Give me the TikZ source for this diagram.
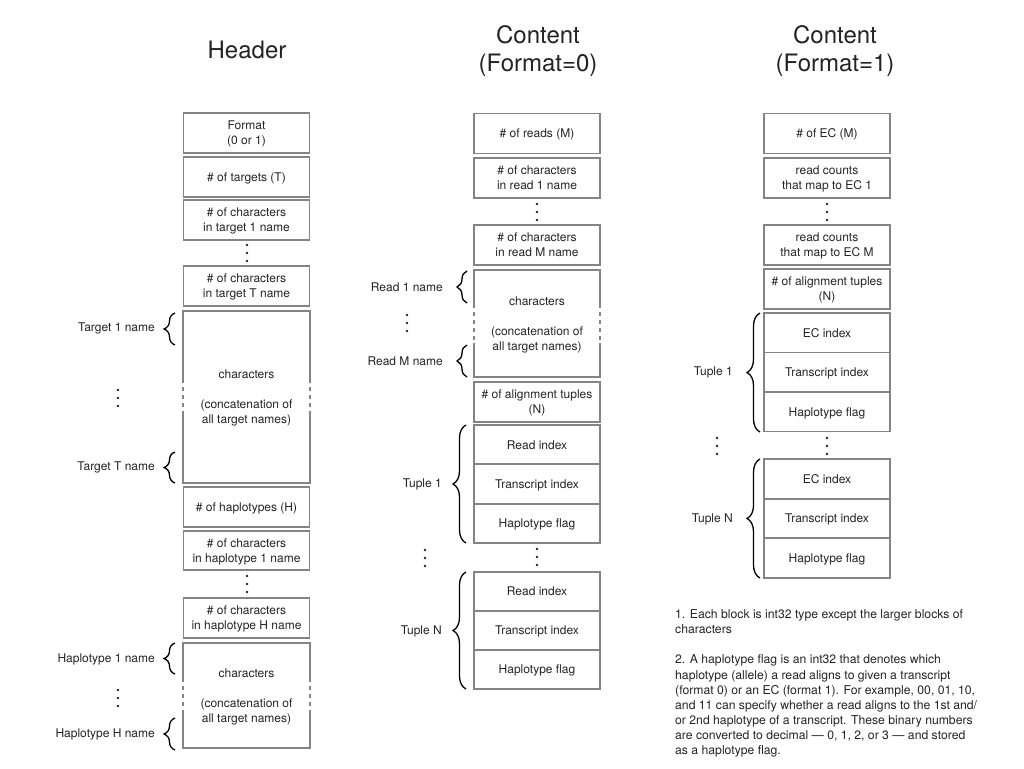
\documentclass[tikz,border=0pt]{standalone}
\usepackage{fontspec}
\setmainfont{TeX Gyre Heros}
\usetikzlibrary{decorations.pathreplacing,calc}
\definecolor{boxgray}{RGB}{132,132,132}
\definecolor{txt}{RGB}{35,35,35}
\newcommand\vdts[2]{\fill[txt] (#1,#2-8) circle[radius=1.4pt] (#1,#2) circle[radius=1.4pt] (#1,#2+8) circle[radius=1.4pt];}
\begin{document}
\begin{tikzpicture}[x=1pt,y=-1pt,
  every node/.style={text=txt},
  blk/.style={draw=boxgray, line width=1.8pt, minimum width=126pt, minimum height=40pt, inner sep=0pt, text depth=-3pt, align=center, font=\fontsize{12}{15}\selectfont},
  big/.style={minimum width=126pt, inner sep=0pt, text depth=-3pt, align=center, font=\fontsize{12}{15}\selectfont},
  bline/.style={draw=boxgray, line width=1.8pt},
  dline/.style={draw=boxgray, line width=1.8pt, dash pattern=on 4pt off 4pt},
  lbl/.style={anchor=east, inner sep=0pt, font=\fontsize{12}{15}\selectfont},
  ttl/.style={align=center, font=\fontsize{24}{28}\selectfont},
  brc/.style={decorate, line width=1.3pt, draw=black},
]
\useasboundingbox (0,0) rectangle (1024,768);

% ---------- titles ----------
\node[ttl] (t0) at (247,50) {Header};
\node[ttl] (t1) at (538,51) {Content\\(Format=0)};
\node[ttl] (t2) at (835,51) {Content\\(Format=1)};

% ---------- Header column ----------
\node[blk] (hf) at (246.5,133) {Format\\(0 or 1)};
\node[blk] (ht) at (246.5,177) {\# of targets (T)};
\node[blk] (hc1) at (246.5,220) {\# of characters\\in target 1 name};
\vdts{247}{253}
\node[blk] (hcT) at (246.5,286) {\# of characters\\in target T name};
\node[big, minimum height=172pt] (hch) at (246.5,397) {characters\\[15pt](concatenation of\\all target names)};
\draw[bline] ($(hch.west)+(0,-18)$) -- (hch.north west) -- (hch.north east) -- ($(hch.east)+(0,-18)$);
\draw[bline] ($(hch.west)+(0,16)$) -- (hch.south west) -- (hch.south east) -- ($(hch.east)+(0,16)$);
\draw[dline] ($(hch.west)+(0,-18)$) -- ($(hch.west)+(0,16)$);
\draw[dline] ($(hch.east)+(0,-18)$) -- ($(hch.east)+(0,16)$);
\node[blk] (hH) at (246.5,507) {\# of haplotypes (H)};
\node[blk, minimum height=39pt] (hh1) at (246.5,550.5) {\# of characters\\in haplotype 1 name};
\vdts{247}{584}
\node[blk] (hhH) at (246.5,618) {\# of characters\\in haplotype H name};
\node[big, minimum height=105pt] (hch2) at (246.5,695.5) {characters\\[15pt](concatenation of\\all target names)};
\draw[bline] ($(hch2.west)+(0,-18)$) -- (hch2.north west) -- (hch2.north east) -- ($(hch2.east)+(0,-18)$);
\draw[bline] ($(hch2.west)+(0,17)$) -- (hch2.south west) -- (hch2.south east) -- ($(hch2.east)+(0,17)$);
\draw[dline] ($(hch2.west)+(0,-18)$) -- ($(hch2.west)+(0,17)$);
\draw[dline] ($(hch2.east)+(0,-18)$) -- ($(hch2.east)+(0,17)$);

\node[lbl] (lt1) at (155,328) {Target 1 name};
\draw[brc, decoration={brace, amplitude=11pt}] (175,345) -- (175,313);
\vdts{118}{398}
\node[lbl] (ltT) at (155,467) {Target T name};
\draw[brc, decoration={brace, amplitude=11pt}] (175,483) -- (175,452);
\node[lbl] (lh1) at (155,659) {Haplotype 1 name};
\draw[brc, decoration={brace, amplitude=11pt}] (175,674) -- (175,643);
\vdts{118}{698}
\node[lbl] (lhH) at (155,734) {Haplotype H name};
\draw[brc, decoration={brace, amplitude=11pt}] (175,750) -- (175,718);

% ---------- Content Format=0 ----------
\node[blk] (cr) at (537,133.5) {\# of reads (M)};
\node[blk] (cr1) at (537,178) {\# of characters\\in read 1 name};
\vdts{537}{212}
\node[blk] (crM) at (537,245) {\# of characters\\in read M name};
\node[big, minimum height=107pt] (cch) at (537,323.5) {characters\\[15pt](concatenation of\\all target names)};
\draw[bline] ($(cch.west)+(0,-20)$) -- (cch.north west) -- (cch.north east) -- ($(cch.east)+(0,-20)$);
\draw[bline] ($(cch.west)+(0,19)$) -- (cch.south west) -- (cch.south east) -- ($(cch.east)+(0,19)$);
\draw[dline] ($(cch.west)+(0,-20)$) -- ($(cch.west)+(0,19)$);
\draw[dline] ($(cch.east)+(0,-20)$) -- ($(cch.east)+(0,19)$);
\node[blk] (caln) at (537,402) {\# of alignment tuples\\(N)};
\node[blk, minimum height=39.3pt] (ca1) at (537,444.7) {Read index};
\node[blk, minimum height=39.3pt] (ca2) at (537,484) {Transcript index};
\node[blk, minimum height=39.3pt] (ca3) at (537,523.3) {Haplotype flag};
\vdts{537}{557}
\node[blk, minimum height=39pt] (cb1) at (537,591.5) {Read index};
\node[blk, minimum height=39pt] (cb2) at (537,630.5) {Transcript index};
\node[blk, minimum height=39pt] (cb3) at (537,669.5) {Haplotype flag};

\node[lbl] (lr1) at (443,287) {Read 1 name};
\draw[brc, decoration={brace, amplitude=10pt}] (467,303) -- (467,271);
\vdts{407}{323}
\node[lbl] (lrM) at (443,361) {Read M name};
\draw[brc, decoration={brace, amplitude=10pt}] (467,377) -- (467,345);
\node[lbl] (ltu1) at (442,484) {Tuple 1};
\draw[brc, decoration={brace, amplitude=13pt}] (466,543) -- (466,425);
\vdts{425}{558}
\node[lbl] (ltuN) at (442,631) {Tuple N};
\draw[brc, decoration={brace, amplitude=13pt}] (466,689) -- (466,572);

% ---------- Content Format=1 ----------
\node[blk] (ec) at (827,133.5) {\# of EC (M)};
\node[blk] (ec1) at (827,178) {read counts\\that map to EC 1};
\vdts{827}{212}
\node[blk] (ecM) at (827,245) {read counts\\that map to EC M};
\node[blk] (ealn) at (827,289) {\# of alignment tuples\\(N)};
\node[blk, minimum height=39.5pt] (ea1) at (827,332.75) {EC index};
\node[blk, minimum height=39.5pt] (ea2) at (827,372.25) {Transcript index};
\node[blk, minimum height=39.5pt] (ea3) at (827,411.75) {Haplotype flag};
\vdts{827}{446}
\node[blk, minimum height=39.7pt] (eb1) at (827,478.8) {EC index};
\node[blk, minimum height=39.7pt] (eb2) at (827,518.5) {Transcript index};
\node[blk, minimum height=39.7pt] (eb3) at (827,558.2) {Haplotype flag};

\node[lbl] (le1) at (733,372) {Tuple 1};
\draw[brc, decoration={brace, amplitude=13pt}] (760,432) -- (760,313);
\vdts{717}{446}
\node[lbl] (leN) at (733,519) {Tuple N};
\draw[brc, decoration={brace, amplitude=13pt}] (760,578) -- (760,459);

% ---------- notes ----------
\node[anchor=north west, inner sep=0pt, align=left, font=\fontsize{12.2}{15.1}\selectfont] (notes) at (675,609.5) {%
1. Each block is int32 type except the larger blocks of\\
characters\\[15.1pt]
2. A haplotype flag is an int32 that denotes which\\
haplotype (allele) a read aligns to given a transcript\\
(format 0) or an EC (format 1). For example, 00, 01, 10,\\
and 11 can specify whether a read aligns to the 1st and/\\
or 2nd haplotype of a transcript. These binary numbers\\
are converted to decimal — 0, 1, 2, or 3 — and stored\\
as a haplotype flag.};
\end{tikzpicture}
\end{document}
